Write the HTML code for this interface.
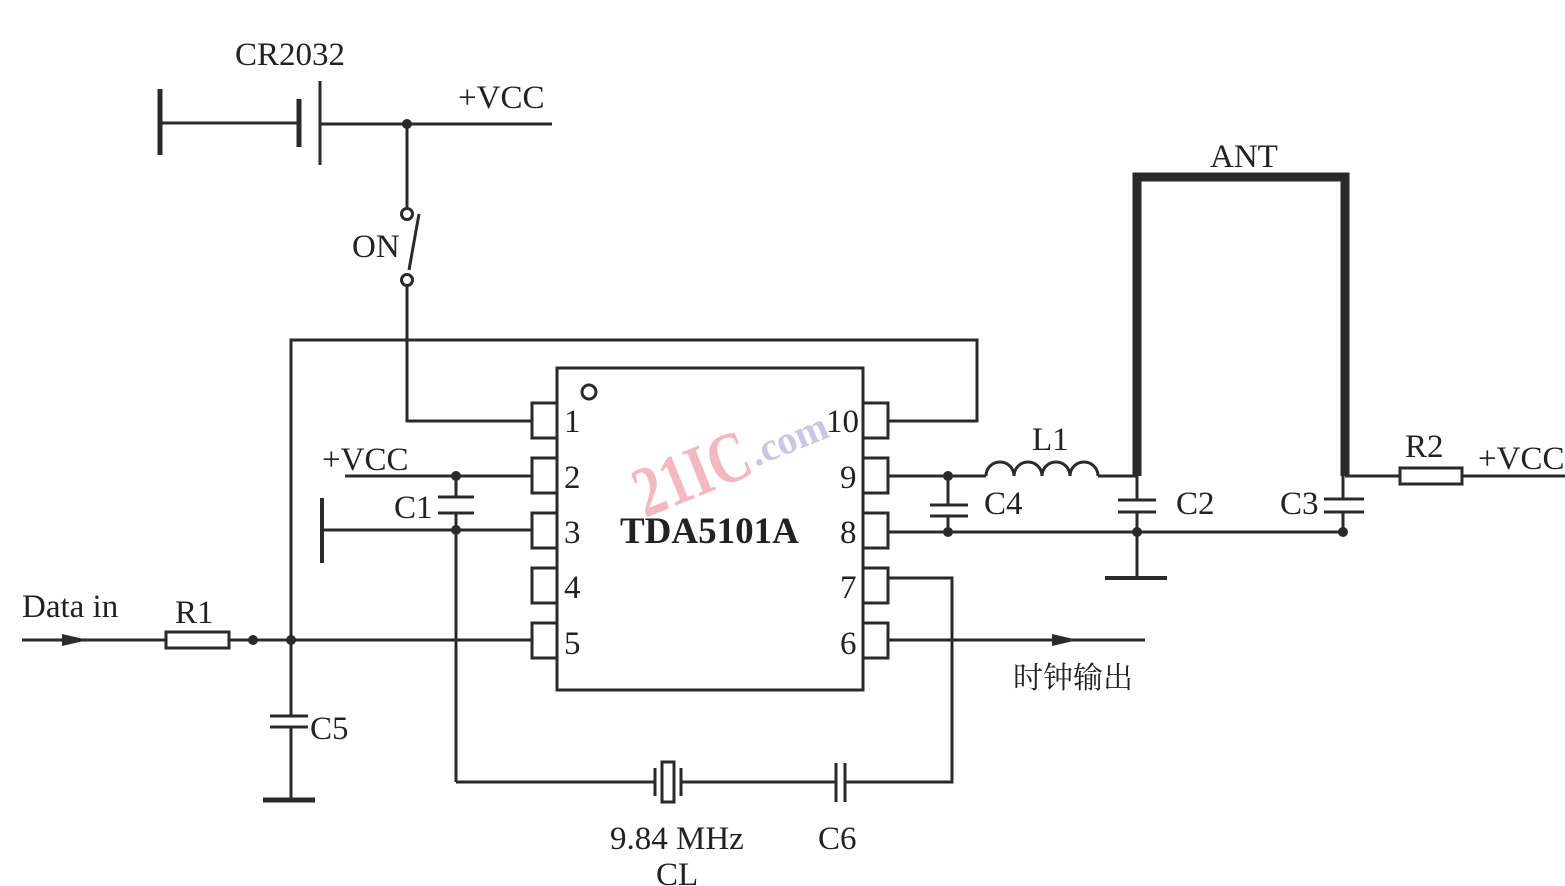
<!DOCTYPE html>
<html><head><meta charset="utf-8"><style>
html,body{margin:0;padding:0;background:#fff;}
svg{display:block;}
text{font-family:"Liberation Serif","Noto Serif CJK SC",serif;fill:#222;}
</style></head><body>
<svg width="1565" height="886" viewBox="0 0 1565 886" xmlns="http://www.w3.org/2000/svg">
<g transform="translate(645,518) rotate(-22)">
<text x="0" y="0" font-size="72" font-weight="bold" style="fill:#f3b9bf" font-family="Liberation Sans,sans-serif" textLength="120" lengthAdjust="spacingAndGlyphs">21IC</text>
<text x="122" y="-6" font-size="40" font-weight="bold" style="fill:#c8c8e6" font-family="Liberation Sans,sans-serif">.com</text>
</g>
<g stroke="#2a2a2a" stroke-width="3" fill="none">
<line x1="160" y1="89" x2="160" y2="155" stroke-width="5"/>
<line x1="160" y1="123" x2="297" y2="123"/>
<line x1="299" y1="99" x2="299" y2="147" stroke-width="5"/>
<line x1="320" y1="81" x2="320" y2="165"/>
<line x1="320" y1="124" x2="552" y2="124"/>
<line x1="407" y1="124" x2="407" y2="207"/>
<circle cx="407" cy="214" r="5.5"/>
<line x1="419" y1="214" x2="409" y2="270"/>
<circle cx="407" cy="280" r="5.5"/>
<polyline points="407,286 407,421 532,421"/>
<polyline points="291,640 291,340 977,340 977,421 888,421"/>
<rect x="557" y="368" width="306" height="322"/>
<circle cx="589" cy="392" r="7"/>
<rect x="532" y="403" width="25" height="35"/>
<rect x="532" y="458" width="25" height="35"/>
<rect x="532" y="513" width="25" height="35"/>
<rect x="532" y="568" width="25" height="35"/>
<rect x="532" y="623" width="25" height="35"/>
<rect x="863" y="403" width="25" height="35"/>
<rect x="863" y="458" width="25" height="35"/>
<rect x="863" y="513" width="25" height="35"/>
<rect x="863" y="568" width="25" height="35"/>
<rect x="863" y="623" width="25" height="35"/>
<line x1="345" y1="476" x2="532" y2="476"/>
<line x1="456" y1="476" x2="456" y2="497"/>
<line x1="438" y1="497" x2="474" y2="497"/>
<line x1="438" y1="513" x2="474" y2="513"/>
<line x1="456" y1="513" x2="456" y2="782"/>
<line x1="322" y1="498" x2="322" y2="563" stroke-width="4"/>
<line x1="322" y1="530" x2="532" y2="530"/>
<line x1="456" y1="782" x2="654" y2="782"/>
<line x1="655" y1="768" x2="655" y2="796"/>
<rect x="662" y="762" width="12" height="40"/>
<line x1="681" y1="768" x2="681" y2="796"/>
<line x1="681" y1="782" x2="835" y2="782"/>
<line x1="836" y1="763" x2="836" y2="802"/>
<line x1="845" y1="763" x2="845" y2="802"/>
<polyline points="845,782 952,782 952,578 888,578"/>
<line x1="22" y1="640" x2="166" y2="640"/>
<rect x="166" y="632" width="63" height="16"/>
<line x1="229" y1="640" x2="532" y2="640"/>
<line x1="291" y1="640" x2="291" y2="716"/>
<line x1="270" y1="716" x2="308" y2="716"/>
<line x1="270" y1="727" x2="308" y2="727"/>
<line x1="291" y1="727" x2="291" y2="800"/>
<line x1="263" y1="800" x2="315" y2="800" stroke-width="5"/>
<line x1="888" y1="640" x2="1145" y2="640"/>
<line x1="888" y1="476" x2="986" y2="476"/>
<line x1="948" y1="476" x2="948" y2="505"/>
<line x1="930" y1="505" x2="968" y2="505"/>
<line x1="930" y1="516" x2="968" y2="516"/>
<line x1="948" y1="516" x2="948" y2="532"/>
<path d="M986,476 a14,14 0 0 1 28,0 a14,14 0 0 1 28,0 a14,14 0 0 1 28,0 a14,14 0 0 1 28,0"/>
<line x1="1098" y1="476" x2="1137" y2="476"/>
<line x1="888" y1="532" x2="1343" y2="532"/>
<line x1="1137" y1="476" x2="1137" y2="500"/>
<line x1="1118" y1="500" x2="1156" y2="500"/>
<line x1="1118" y1="512" x2="1156" y2="512"/>
<line x1="1137" y1="512" x2="1137" y2="578"/>
<line x1="1105" y1="578" x2="1167" y2="578" stroke-width="4"/>
<line x1="1343" y1="476" x2="1343" y2="499"/>
<line x1="1324" y1="499" x2="1364" y2="499"/>
<line x1="1324" y1="512" x2="1364" y2="512"/>
<line x1="1343" y1="512" x2="1343" y2="532"/>
<polyline points="1137,476 1137,177 1345,177 1345,476" stroke-width="9" stroke-linejoin="miter"/>
<line x1="1345" y1="476" x2="1400" y2="476"/>
<rect x="1400" y="468" width="62" height="16"/>
<line x1="1462" y1="476" x2="1565" y2="476"/>
</g>
<g fill="#2a2a2a">
<circle cx="407" cy="124" r="5"/>
<circle cx="456" cy="476" r="5"/>
<circle cx="456" cy="530" r="5"/>
<circle cx="253" cy="640" r="5"/>
<circle cx="291" cy="640" r="5"/>
<circle cx="948" cy="476" r="5"/>
<circle cx="948" cy="532" r="5"/>
<circle cx="1137" cy="532" r="5"/>
<circle cx="1343" cy="532" r="5"/>
<polygon points="62,634 88,640 62,646"/>
<polygon points="1052,634 1078,640 1052,646"/>
</g>
<g font-size="33">
<text x="235" y="65">CR2032</text>
<text x="458" y="108">+VCC</text>
<text x="352" y="257">ON</text>
<text x="322" y="470">+VCC</text>
<text x="394" y="518">C1</text>
<text x="22" y="617">Data in</text>
<text x="175" y="623">R1</text>
<text x="310" y="739">C5</text>
<text x="564" y="432">1</text>
<text x="564" y="488">2</text>
<text x="564" y="543">3</text>
<text x="564" y="598">4</text>
<text x="564" y="654">5</text>
<text x="826" y="432">10</text>
<text x="840" y="488">9</text>
<text x="840" y="543">8</text>
<text x="840" y="598">7</text>
<text x="840" y="654">6</text>
<text x="620" y="543" font-size="37" font-weight="bold">TDA5101A</text>
<text x="1013" y="688" font-size="30">时钟输出</text>
<text x="610" y="849">9.84 MHz</text>
<text x="656" y="885">CL</text>
<text x="818" y="849">C6</text>
<text x="984" y="514">C4</text>
<text x="1032" y="450">L1</text>
<text x="1176" y="514">C2</text>
<text x="1280" y="514">C3</text>
<text x="1210" y="167">ANT</text>
<text x="1405" y="457">R2</text>
<text x="1478" y="469">+VCC</text>
</g>
</svg>
</body></html>
